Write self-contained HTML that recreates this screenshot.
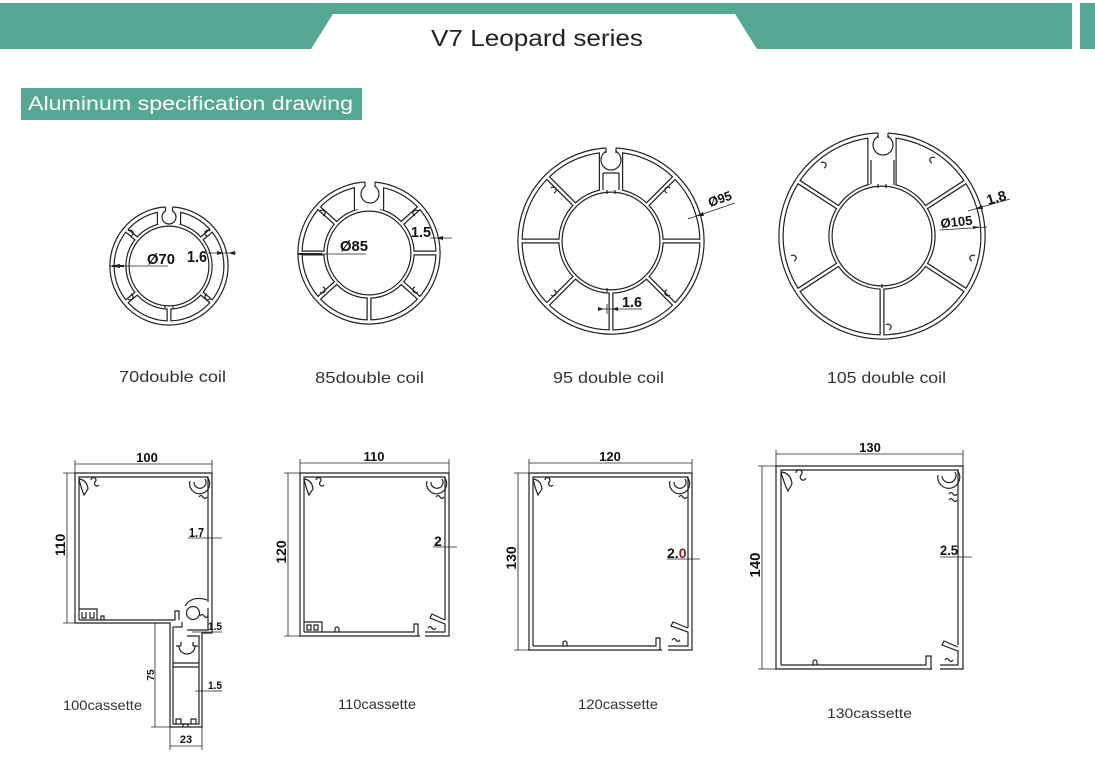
<!DOCTYPE html>
<html><head><meta charset="utf-8">
<style>
html,body{margin:0;padding:0;background:#fff;}
svg{display:block;}
.l{fill:none;stroke:#222;stroke-width:1.2;}
.d{fill:none;stroke:#222;stroke-width:0.8;}
.t{font-family:"Liberation Sans",Arial,sans-serif;fill:#333;}
.b{font-family:"Liberation Sans",Arial,sans-serif;font-weight:bold;fill:#111;}
</style></head><body>
<svg width="1095" height="763" viewBox="0 0 1095 763" xmlns="http://www.w3.org/2000/svg">
<rect width="1095" height="763" fill="#fff"/>
<!-- header -->
<path d="M0,3 H1072 V49 H757 L735,14 H333 L311,49 H0 Z" fill="#55a893"/>
<rect x="1080" y="3" width="15" height="46" fill="#55a893"/>
<text x="431" y="46" font-family="Liberation Sans, Arial, sans-serif" font-size="23" fill="#222" textLength="212" lengthAdjust="spacingAndGlyphs">V7 Leopard series</text>
<rect x="21" y="88" width="341" height="32" fill="#55a893"/>
<text x="28" y="110" font-family="Liberation Sans, Arial, sans-serif" font-size="19" fill="#fff" textLength="325" lengthAdjust="spacingAndGlyphs">Aluminum specification drawing</text>

<!-- ===== Circle 70 ===== -->
<g>
<g fill="#222">
<rect x="166.5" y="209" width="5" height="15.5" transform="rotate(50 169 266)"/>
<rect x="166.5" y="209" width="5" height="15.5" transform="rotate(130 169 266)"/>
<rect x="166.5" y="209" width="5" height="15.5" transform="rotate(180 169 266)"/>
<rect x="166.5" y="209" width="5" height="15.5" transform="rotate(230 169 266)"/>
<rect x="166.5" y="209" width="5" height="15.5" transform="rotate(310 169 266)"/>
<rect x="156.8" y="209" width="24.4" height="15.5"/>
</g>
<circle cx="169" cy="266" r="57" fill="none" stroke="#222" stroke-width="5.4"/>
<circle cx="169" cy="266" r="57" fill="none" stroke="#fff" stroke-width="3"/>
<circle cx="169" cy="266" r="41.5" fill="none" stroke="#222" stroke-width="4.4"/>
<circle cx="169" cy="266" r="41.5" fill="none" stroke="#fff" stroke-width="2"/>
<g fill="#fff">
<rect x="167.75" y="209" width="2.5" height="15.5" transform="rotate(50 169 266)"/>
<rect x="167.75" y="209" width="2.5" height="15.5" transform="rotate(130 169 266)"/>
<rect x="167.75" y="209" width="2.5" height="15.5" transform="rotate(180 169 266)"/>
<rect x="167.75" y="209" width="2.5" height="15.5" transform="rotate(230 169 266)"/>
<rect x="167.75" y="209" width="2.5" height="15.5" transform="rotate(310 169 266)"/>
<rect x="158" y="209" width="22" height="15.5"/>
</g>
<circle cx="169" cy="217" r="7" fill="#fff" stroke="#222" stroke-width="1.2"/>
<rect x="165.5" y="205" width="7" height="7" fill="#fff"/>
<path class="l" d="M165.5,207 V211.5 M172.5,207 V211.5"/>
<path class="l" d="M128,231 a3,3 0 1 1 3,5 M210,231 a3,3 0 1 0 -3,5 M128,299 a3,3 0 1 0 3,-5 M210,299 a3,3 0 1 1 -3,-5 M165,308 v-3 M173,308 v-3"/>
<!-- dims -->
<path class="d" d="M110,266 H168"/>
<path d="M110,266 L120,264 L120,268 Z" fill="#222"/>
<rect x="112" y="265" width="12" height="2" fill="#222"/>
<text x="147" y="264" class="b" font-size="15" textLength="28" lengthAdjust="spacingAndGlyphs">Ø70</text>
<text x="187" y="262" class="b" font-size="16" textLength="20" lengthAdjust="spacingAndGlyphs">1.6</text>
<path class="d" d="M208,253 H236"/>
<path d="M224,253 L217,251 L217,255 Z M228,253 L235,251 L235,255 Z" fill="#222"/>
</g>

<!-- ===== Circle 85 ===== -->
<g>
<g fill="#222">
<rect x="366.5" y="184" width="5" height="25.5" transform="rotate(48 369 253)"/>
<rect x="366.5" y="184" width="5" height="25.5" transform="rotate(90 369 253)"/>
<rect x="366.5" y="184" width="5" height="25.5" transform="rotate(132 369 253)"/>
<rect x="366.5" y="184" width="5" height="25.5" transform="rotate(180 369 253)"/>
<rect x="366.5" y="184" width="5" height="25.5" transform="rotate(228 369 253)"/>
<rect x="366.5" y="184" width="5" height="25.5" transform="rotate(270 369 253)"/>
<rect x="366.5" y="184" width="5" height="25.5" transform="rotate(312 369 253)"/>
<rect x="353.8" y="184" width="30.4" height="25.5"/>
</g>
<circle cx="369" cy="253" r="69" fill="none" stroke="#222" stroke-width="5.4"/>
<circle cx="369" cy="253" r="69" fill="none" stroke="#fff" stroke-width="3"/>
<circle cx="369" cy="253" r="43.5" fill="none" stroke="#222" stroke-width="4.4"/>
<circle cx="369" cy="253" r="43.5" fill="none" stroke="#fff" stroke-width="2"/>
<g fill="#fff">
<rect x="367.75" y="184" width="2.5" height="25.5" transform="rotate(48 369 253)"/>
<rect x="367.75" y="184" width="2.5" height="25.5" transform="rotate(90 369 253)"/>
<rect x="367.75" y="184" width="2.5" height="25.5" transform="rotate(132 369 253)"/>
<rect x="367.75" y="184" width="2.5" height="25.5" transform="rotate(180 369 253)"/>
<rect x="367.75" y="184" width="2.5" height="25.5" transform="rotate(228 369 253)"/>
<rect x="367.75" y="184" width="2.5" height="25.5" transform="rotate(270 369 253)"/>
<rect x="367.75" y="184" width="2.5" height="25.5" transform="rotate(312 369 253)"/>
<rect x="355" y="184" width="28" height="25.5"/>
</g>
<circle cx="370" cy="194" r="9" fill="#fff" stroke="#222" stroke-width="1.2"/>
<rect x="365" y="180" width="10" height="8" fill="#fff"/>
<path class="l" d="M365,182 V187 M375,182 V187"/>
<path class="l" d="M320,211 a3,3 0 1 1 3,5 M418,211 a3,3 0 1 0 -3,5 M320,292 a3,3 0 1 0 3,-5 M418,292 a3,3 0 1 1 -3,-5"/>
<path class="d" d="M298,254 H366"/>
<rect x="298" y="253" width="24" height="2" fill="#222"/>
<text x="340" y="251" class="b" font-size="15" textLength="28" lengthAdjust="spacingAndGlyphs">Ø85</text>
<text x="411" y="237" class="b" font-size="15" textLength="20" lengthAdjust="spacingAndGlyphs">1.5</text>
<path class="d" d="M430,238 H452"/>
<path d="M436,238 L443,236 L443,240 Z" fill="#222"/>
</g>

<!-- ===== Circle 95 ===== -->
<g>
<g fill="#222">
<rect x="608.5" y="150" width="5" height="40.5" transform="rotate(45 611 241)"/>
<rect x="608.5" y="150" width="5" height="40.5" transform="rotate(90 611 241)"/>
<rect x="608.5" y="150" width="5" height="40.5" transform="rotate(135 611 241)"/>
<rect x="608.5" y="150" width="5" height="40.5" transform="rotate(180 611 241)"/>
<rect x="608.5" y="150" width="5" height="40.5" transform="rotate(225 611 241)"/>
<rect x="608.5" y="150" width="5" height="40.5" transform="rotate(270 611 241)"/>
<rect x="608.5" y="150" width="5" height="40.5" transform="rotate(315 611 241)"/>
<rect x="598.8" y="150" width="24.4" height="40.5"/>
</g>
<circle cx="611" cy="241" r="91" fill="none" stroke="#222" stroke-width="5.4"/>
<circle cx="611" cy="241" r="91" fill="none" stroke="#fff" stroke-width="3"/>
<circle cx="611" cy="241" r="50.5" fill="none" stroke="#222" stroke-width="4.4"/>
<circle cx="611" cy="241" r="50.5" fill="none" stroke="#fff" stroke-width="2"/>
<g fill="#fff">
<rect x="609.75" y="150" width="2.5" height="40.5" transform="rotate(45 611 241)"/>
<rect x="609.75" y="150" width="2.5" height="40.5" transform="rotate(90 611 241)"/>
<rect x="609.75" y="150" width="2.5" height="40.5" transform="rotate(135 611 241)"/>
<rect x="609.75" y="150" width="2.5" height="40.5" transform="rotate(180 611 241)"/>
<rect x="609.75" y="150" width="2.5" height="40.5" transform="rotate(225 611 241)"/>
<rect x="609.75" y="150" width="2.5" height="40.5" transform="rotate(270 611 241)"/>
<rect x="609.75" y="150" width="2.5" height="40.5" transform="rotate(315 611 241)"/>
<rect x="600" y="150" width="22" height="40.5"/>
</g>
<circle cx="611" cy="160" r="10" fill="#fff" stroke="#222" stroke-width="1.2"/>
<rect x="606" y="146" width="10" height="8" fill="#fff"/>
<path class="l" d="M606,148 V153 M616,148 V153 M603,173 H619 M603,173 V190 M619,173 V190"/>
<path class="l" d="M551,188 a3,3 0 1 1 3,5 M670,188 a3,3 0 1 0 -3,5 M551,295 a3,3 0 1 0 3,-5 M670,295 a3,3 0 1 1 -3,-5 M607,190 v4 M615,190 v4 M607,292 v-4"/>
<path class="d" d="M688,219 L735,203"/>
<path d="M696,216 L703,212 L704,216 Z" fill="#222"/>
<text x="0" y="0" class="b" font-size="13" textLength="24" lengthAdjust="spacingAndGlyphs" transform="translate(710,207) rotate(-19)">Ø95</text>
<text x="622" y="307" class="b" font-size="15" textLength="20" lengthAdjust="spacingAndGlyphs">1.6</text>
<path class="d" d="M600,309 H642 M607,304 V314"/>
<path d="M604,309 L598,307 L598,311 Z M612,309 L618,307 L618,311 Z" fill="#222"/>
</g>

<!-- ===== Circle 105 ===== -->
<g>
<g fill="#222">
<rect x="879.5" y="135" width="5" height="49.5" transform="rotate(57 882 236)"/>
<rect x="879.5" y="135" width="5" height="49.5" transform="rotate(123 882 236)"/>
<rect x="879.5" y="135" width="5" height="49.5" transform="rotate(180 882 236)"/>
<rect x="879.5" y="135" width="5" height="49.5" transform="rotate(237 882 236)"/>
<rect x="879.5" y="135" width="5" height="49.5" transform="rotate(303 882 236)"/>
<rect x="867.3" y="135" width="29.4" height="49.5"/>
</g>
<circle cx="882" cy="236" r="101" fill="none" stroke="#222" stroke-width="5.4"/>
<circle cx="882" cy="236" r="101" fill="none" stroke="#fff" stroke-width="3"/>
<circle cx="882" cy="236" r="51.5" fill="none" stroke="#222" stroke-width="4.4"/>
<circle cx="882" cy="236" r="51.5" fill="none" stroke="#fff" stroke-width="2"/>
<g fill="#fff">
<rect x="880.75" y="135" width="2.5" height="49.5" transform="rotate(57 882 236)"/>
<rect x="880.75" y="135" width="2.5" height="49.5" transform="rotate(123 882 236)"/>
<rect x="880.75" y="135" width="2.5" height="49.5" transform="rotate(180 882 236)"/>
<rect x="880.75" y="135" width="2.5" height="49.5" transform="rotate(237 882 236)"/>
<rect x="880.75" y="135" width="2.5" height="49.5" transform="rotate(303 882 236)"/>
<rect x="868.5" y="135" width="27" height="49.5"/>
</g>
<circle cx="883" cy="145" r="10" fill="#fff" stroke="#222" stroke-width="1.2"/>
<rect x="878" y="130" width="10" height="8" fill="#fff"/>
<path class="l" d="M878,133 V138 M888,133 V138 M871,160 V184 M894,160 V184"/>
<path class="l" d="M821,163 a3,3 0 1 1 3,5 M935,158 a3,3 0 1 0 -3,5 M791,256 a3,3 0 1 1 3,5 M975,256 a3,3 0 1 0 -3,5 M886,325 a3,3 0 1 1 3,5 M878,184 v4 M886,184 v4 M882,288 v-4"/>
<path class="d" d="M968,211 L1010,199 M940,230 L987,227"/>
<path d="M975,209 L982,205 L983,209 Z M980,227 L973,226 L973,229 Z" fill="#222"/>
<text x="0" y="0" class="b" font-size="14" textLength="20" lengthAdjust="spacingAndGlyphs" transform="translate(988,205) rotate(-16)">1.8</text>
<text x="0" y="0" class="b" font-size="13" textLength="32" lengthAdjust="spacingAndGlyphs" transform="translate(941,228) rotate(-6)">Ø105</text>
</g>

<!-- captions circles -->
<text x="119" y="382" class="t" font-size="16" textLength="107" lengthAdjust="spacingAndGlyphs">70double coil</text>
<text x="315" y="383" class="t" font-size="16" textLength="109" lengthAdjust="spacingAndGlyphs">85double coil</text>
<text x="553" y="383" class="t" font-size="16" textLength="111" lengthAdjust="spacingAndGlyphs">95 double coil</text>
<text x="827" y="383" class="t" font-size="16" textLength="119" lengthAdjust="spacingAndGlyphs">105 double coil</text>

<!-- ===== Cassette 100 ===== -->
<g>
<path class="l" d="M75,473 H212 V633 H202 V727 H170 V623 H75 Z"/>
<path class="l" d="M79,620 V477 H208 V602"/>
<path class="l" d="M79,620 H175 V611 H179 V620"/>
<path class="l" d="M79,609 H97 V620 M82,612 v6 h4 v-6 M90,612 v6 h4 v-6 M101,620 v-4 h3 v4"/>
<circle cx="193" cy="613" r="6.5" class="l"/>
<path class="l" d="M185,606 Q192,595 207,600 M200,616 q2,-3 4,0 q2,3 4,0 M208,608 V630 H187 M173,627 H182 V622"/>
<path class="l" d="M173,627 V724 H199 V636 H187"/>
<path class="l" d="M173,663 H199 M173,667 H199"/>
<path class="l" d="M179,646 a8,8 0 0 0 16,0 M176,646 h5 M193,646 h5 M181,646 v-4 M193,646 v-4"/>
<path class="l" d="M176,724 v-5 h5 v5 M191,724 v-5 h5 v5 M183,727 v-3 h5 v3"/>
<g transform="translate(79,477)"><path class="l" d="M0,2 q8,1 9,10 l-4,6 q-3,-7 -5,-16 M12,3 a2.5,2.5 0 1 1 4,2 a2.5,2.5 0 1 0 4,3"/></g>
<g transform="translate(208,477)"><path class="l" d="M-18,4 A10,10 0 1 0 -1,-0 M-14,5 A6,6 0 1 0 -3,2 M-9,20 q2,-3 4,0 q2,3 4,0"/></g>
<!-- dims -->
<path class="d" d="M75,464 H212 M75,460 V473 M212,460 V473"/>
<text x="147" y="462" class="b" font-size="13" text-anchor="middle">100</text>
<path class="d" d="M67,473 V623 M63,473 H75 M63,623 H75"/>
<text class="b" font-size="14" text-anchor="middle" transform="translate(65,545) rotate(-90)">110</text>
<path class="d" d="M155,623 V727 M151,623 H170 M151,727 H170"/>
<text class="b" font-size="10" text-anchor="middle" transform="translate(154,675) rotate(-90)">75</text>
<path class="d" d="M170,746 H202 M170,727 V750 M202,727 V750"/>
<text x="186" y="743" class="b" font-size="11" text-anchor="middle">23</text>
<text x="189" y="537" class="b" font-size="13" textLength="15" lengthAdjust="spacingAndGlyphs">1.7</text>
<path class="d" d="M188,538 H222 M208,535 V541"/>
<text x="208" y="630" class="b" font-size="11" textLength="14" lengthAdjust="spacingAndGlyphs">1.5</text>
<path class="d" d="M192,632 H222"/>
<text x="208" y="689" class="b" font-size="11" textLength="14" lengthAdjust="spacingAndGlyphs">1.5</text>
<path class="d" d="M195,691 H222"/>
</g>
<text x="63" y="710" class="t" font-size="14" textLength="79" lengthAdjust="spacingAndGlyphs">100cassette</text>

<!-- ===== Cassette 110 ===== -->
<g>
<path class="l" d="M420,636 H300 V473 H449 V636 H425"/>
<path class="l" d="M304,632 V477 H445 V620"/>
<path class="l" d="M304,632 H414 V624 H418 V636"/>
<path class="l" d="M445,620 L432,614 L430,618 L445,624 V632 H425 M428,628 q2,-3 4,0 q2,3 4,0"/>
<path class="l" d="M304,622 H322 V632 M307,625 h4 v5 h-4z M314,625 h4 v5 h-4z M335,632 v-3 a2,2 0 0 1 4,0 v3"/>
<g transform="translate(304,477)"><path class="l" d="M0,2 q8,1 9,10 l-4,6 q-3,-7 -5,-16 M12,3 a2.5,2.5 0 1 1 4,2 a2.5,2.5 0 1 0 4,3"/></g>
<g transform="translate(445,477)"><path class="l" d="M-18,4 A10,10 0 1 0 -1,-0 M-14,5 A6,6 0 1 0 -3,2 M-9,20 q2,-3 4,0 q2,3 4,0"/></g>
<path class="d" d="M300,463 H449 M300,459 V473 M449,459 V473"/>
<text x="374" y="461" class="b" font-size="13" text-anchor="middle">110</text>
<path class="d" d="M288,473 V636 M284,473 H300 M284,636 H300"/>
<text class="b" font-size="14" text-anchor="middle" transform="translate(286,552) rotate(-90)">120</text>
<text x="434" y="546" class="b" font-size="14">2</text>
<path class="d" d="M433,547 H457"/>
</g>
<text x="338" y="709" class="t" font-size="14" textLength="78" lengthAdjust="spacingAndGlyphs">110cassette</text>

<!-- ===== Cassette 120 ===== -->
<g>
<path class="l" d="M662,650 H529 V473 H692 V650 H668"/>
<path class="l" d="M533,646 V477 H688 V628"/>
<path class="l" d="M533,646 H656 V638 H660 V650"/>
<path class="l" d="M688,628 L673,622 L671,626 L688,632 V646 H668 M672,640 q2,-3 4,0 q2,3 4,0"/>
<path class="l" d="M563,646 v-3 a2,2 0 0 1 4,0 v3"/>
<g transform="translate(533,477)"><path class="l" d="M0,2 q8,1 9,10 l-4,6 q-3,-7 -5,-16 M12,3 a2.5,2.5 0 1 1 4,2 a2.5,2.5 0 1 0 4,3"/></g>
<g transform="translate(688,477)"><path class="l" d="M-18,4 A10,10 0 1 0 -1,-0 M-14,5 A6,6 0 1 0 -3,2 M-9,20 q2,-3 4,0 q2,3 4,0"/></g>
<path class="d" d="M529,463 H692 M529,459 V473 M692,459 V473"/>
<text x="610" y="461" class="b" font-size="13" text-anchor="middle">120</text>
<path class="d" d="M518,473 V650 M514,473 H529 M514,650 H529"/>
<text class="b" font-size="14" text-anchor="middle" transform="translate(516,558) rotate(-90)">130</text>
<text x="667" y="558" class="b" font-size="14">2.<tspan fill="#8b1a1a">0</tspan></text>
<path class="d" d="M667,559 H700"/>
</g>
<text x="578" y="709" class="t" font-size="14" textLength="80" lengthAdjust="spacingAndGlyphs">120cassette</text>

<!-- ===== Cassette 130 ===== -->
<g>
<path class="l" d="M932,669 H776 V466 H963 V669 H940"/>
<path class="l" d="M781,665 V470 H958 V645"/>
<path class="l" d="M781,665 H926 V656 H931 V669"/>
<path class="l" d="M958,647 L944,641 L942,645 L958,651 V665 H940 M945,660 q2,-3 4,0 q2,3 4,0"/>
<path class="l" d="M813,665 v-3 a2,2 0 0 1 4,0 v3"/>
<g transform="translate(781,470)"><path class="l" d="M0,2 q10,1 11,12 l-4,7 q-4,-8 -7,-19 M15,3 a3,3 0 1 1 5,2 a3,3 0 1 0 5,3"/></g>
<g transform="translate(958,470)"><path class="l" d="M-20,5 A11,11 0 1 0 -1,0 M-16,6 A7,7 0 1 0 -3,2 M-9,24 q2,-3 4,0 q2,3 4,0 M-9,30 q2,-3 4,0 q2,3 4,0"/></g>
<path class="d" d="M776,454 H963 M776,450 V466 M963,450 V466"/>
<text x="870" y="452" class="b" font-size="13" text-anchor="middle">130</text>
<path class="d" d="M762,466 V669 M758,466 H776 M758,669 H776"/>
<text class="b" font-size="15" text-anchor="middle" transform="translate(760,565) rotate(-90)">140</text>
<text x="940" y="555" class="b" font-size="14" textLength="18" lengthAdjust="spacingAndGlyphs">2.5</text>
<path class="d" d="M940,557 H972"/>
</g>
<text x="827" y="718" class="t" font-size="14" textLength="85" lengthAdjust="spacingAndGlyphs">130cassette</text>
</svg>
</body></html>
